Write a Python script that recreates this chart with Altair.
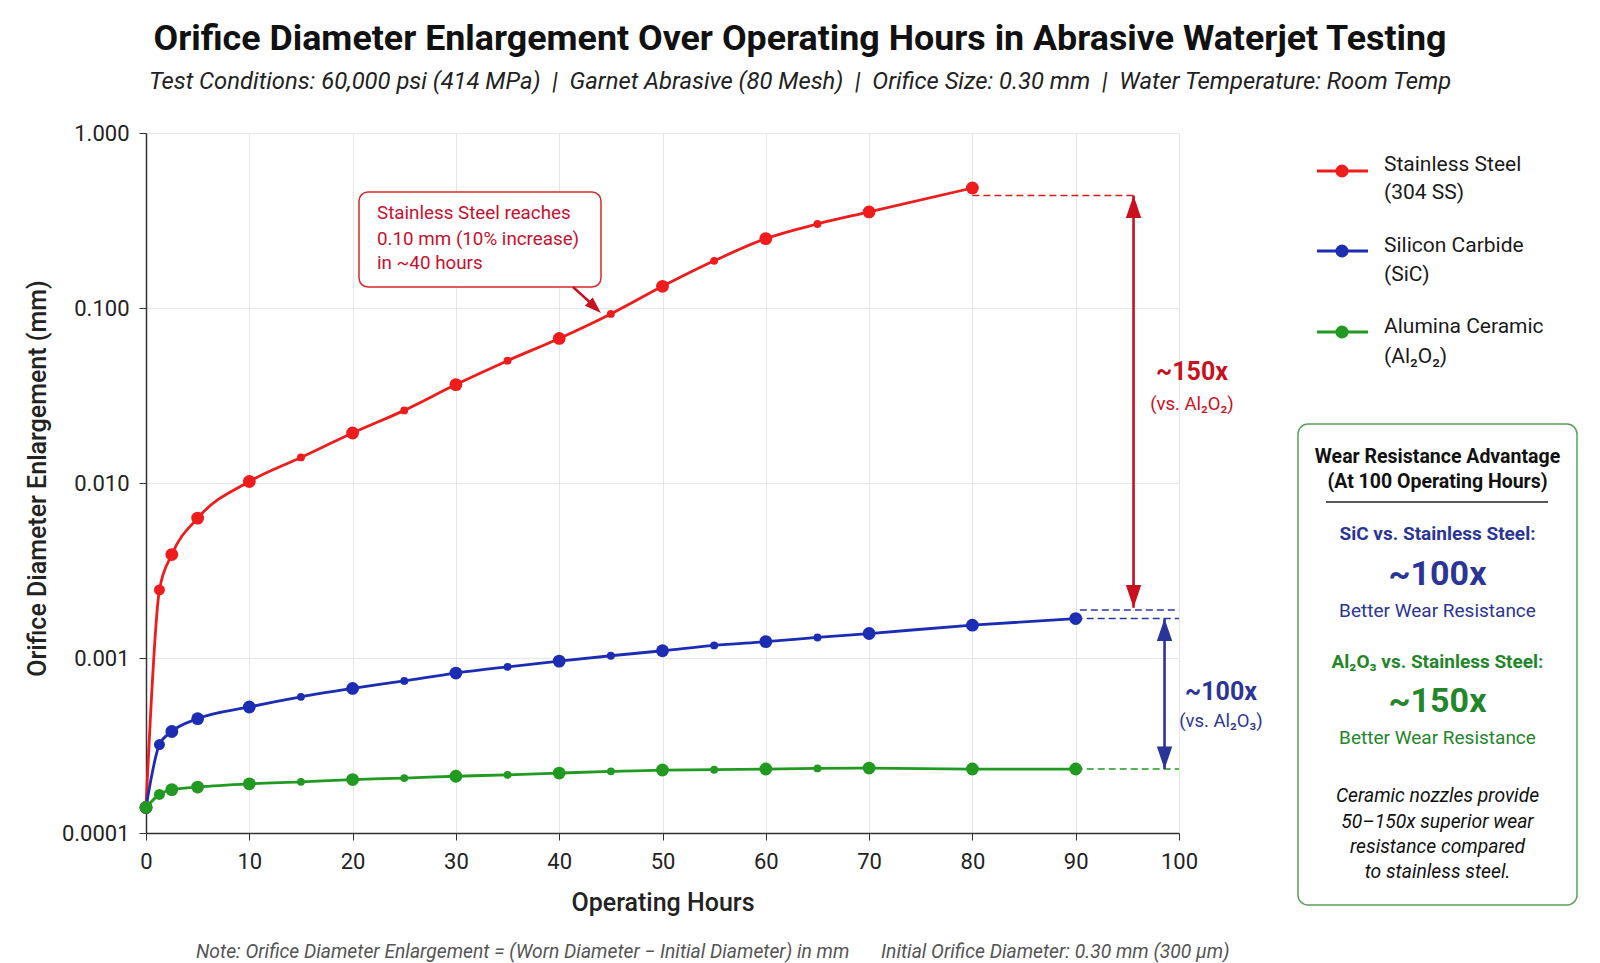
import altair as alt
import pandas as pd

# ---------------- data ----------------
hours = [0, 1.3, 2.5, 5, 10, 15, 20, 25, 30, 35, 40, 45, 50, 55, 60, 65, 70, 80, 90]
ss_hours = hours[:-1]
ss_vals = [0.00014, 0.00245, 0.0039, 0.0063, 0.0102, 0.014, 0.0193, 0.026, 0.0365, 0.050,
           0.067, 0.0925, 0.133, 0.186, 0.249, 0.302, 0.354, 0.485]
sic_vals = [0.00014, 0.00032, 0.00038, 0.00045, 0.000525, 0.0006, 0.00067, 0.00074, 0.00082,
            0.00089, 0.00096, 0.00103, 0.0011, 0.00118, 0.00124, 0.00131, 0.00138, 0.00154, 0.00168]
al_vals = [0.00014, 0.000166, 0.000177, 0.000183, 0.000191, 0.000196, 0.000202, 0.000206,
           0.000211, 0.000215, 0.00022, 0.000225, 0.000229, 0.00023, 0.000232, 0.000234,
           0.000235, 0.000232, 0.000232]
materials = ["Stainless Steel (304 SS)", "Silicon Carbide (SiC)", "Alumina Ceramic (Al₂O₂)"]
colors = ["#ee1c1c", "#1c2db4", "#229a22"]

rows = []
for h, v in zip(ss_hours, ss_vals):
    rows.append({"material": materials[0], "hours": h, "value": v})
for h, v in zip(hours, sic_vals):
    rows.append({"material": materials[1], "hours": h, "value": v})
for h, v in zip(hours, al_vals):
    rows.append({"material": materials[2], "hours": h, "value": v})
df = pd.DataFrame(rows)

# reference / comparison annotation values
ss_ref = 0.439
sic_ref_hi = 0.00188
sic_ref = 0.00168
al_ref = 0.000232
red_arrow_x = 95.6
blue_arrow_x = 98.6

FONT = "Roboto"
L, T = 146, 133  # plot origin in page pixels

xs = alt.Scale(domain=[0, 100], nice=False)
ys = alt.Scale(type="log", domain=[0.0001, 1], nice=False)
X = alt.X("hours:Q", scale=xs, title="Operating Hours",
          axis=alt.Axis(values=list(range(0, 101, 10)), labelFontSize=22, titleFontSize=25,
                        titleFontWeight=500, labelPadding=11, titlePadding=18, tickSize=7,
                        labelFlush=False,
                        labelFont=FONT, titleFont=FONT, labelColor="#222", titleColor="#222",
                        domainColor="#333", tickColor="#333", domainWidth=1.5, gridColor="#e6e6e6"))
Y = alt.Y("value:Q", scale=ys, title="Orifice Diameter Enlargement (mm)",
          axis=alt.Axis(values=[0.0001, 0.001, 0.01, 0.1, 1], labelFontSize=22, titleFontSize=25,
                        titleFontWeight=500, labelPadding=10, titlePadding=11, tickSize=7,
                        labelFlush=False, titleY=345,
                        labelExpr="datum.value >= 0.01 ? format(datum.value, '.3f') : (datum.value >= 0.001 ? '0.001' : '0.0001')",
                        labelFont=FONT, titleFont=FONT, labelColor="#222", titleColor="#222",
                        domainColor="#333", tickColor="#333", domainWidth=1.5, gridColor="#e6e6e6"))
C = alt.Color("material:N", scale=alt.Scale(domain=materials, range=colors), legend=None)

lines = alt.Chart(df).mark_line(strokeWidth=2.8, interpolate="monotone").encode(
    x=X, y=Y, color=C, order="hours:Q")
points = alt.Chart(df).transform_calculate(
    sz="(datum.hours % 10 == 0 || datum.hours == 5 || datum.hours == 2.5) ? 165 : (datum.hours < 2 ? 120 : 62)"
).mark_point(filled=True, opacity=1).encode(
    x=X, y=Y, color=C, size=alt.Size("sz:Q", scale=None))

one = pd.DataFrame({"k": [0]})


def hdash(y, x1, x2, color):
    d = pd.DataFrame({"hours": [x1], "hours2": [x2], "value": [y]})
    return alt.Chart(d).mark_rule(color=color, strokeDash=[7, 4], strokeWidth=1.6).encode(
        x=X, x2="hours2:Q", y=Y)


def varrow(x, ytop, ybot, color):
    d = pd.DataFrame({"hours": [x], "value": [ytop], "value2": [ybot]})
    shaft = alt.Chart(d).mark_rule(color=color, strokeWidth=2.6).encode(x=X, y=Y, y2="value2:Q")
    up = alt.Chart(pd.DataFrame({"hours": [x], "value": [ytop]})).mark_point(
        shape="M0,0 L-0.75,2.2 L0.75,2.2 Z", size=420, filled=True, color=color, opacity=1).encode(x=X, y=Y)
    dn = alt.Chart(pd.DataFrame({"hours": [x], "value": [ybot]})).mark_point(
        shape="M0,0 L-0.75,-2.2 L0.75,-2.2 Z", size=420, filled=True, color=color, opacity=1).encode(x=X, y=Y)
    return [shaft, up, dn]


def txt(s, x, y, size, color="#222", weight="normal", style="normal", align="center"):
    return alt.Chart(one).mark_text(text=s, fontSize=size, color=color, fontWeight=weight,
                                    fontStyle=style, align=align, baseline="middle", font=FONT).encode(
        x=alt.value(x - L), y=alt.value(y - T))


def prule(x1, y1, x2, y2, color, width=1.5):
    return alt.Chart(one).mark_rule(color=color, strokeWidth=width).encode(
        x=alt.value(x1 - L), y=alt.value(y1 - T), x2=alt.value(x2 - L), y2=alt.value(y2 - T))


def prect(x1, y1, x2, y2, stroke, fill="white", width=1.5, radius=8):
    return alt.Chart(one).mark_rect(stroke=stroke, fill=fill, strokeWidth=width, cornerRadius=radius).encode(
        x=alt.value(x1 - L), y=alt.value(y1 - T), x2=alt.value(x2 - L), y2=alt.value(y2 - T))


def pdot(x, y, color, size=120):
    return alt.Chart(one).mark_point(filled=True, color=color, size=size, opacity=1).encode(
        x=alt.value(x - L), y=alt.value(y - T))


layers = [lines, points]
layers += [hdash(ss_ref, 80, red_arrow_x, "#dd1c1c"),
           hdash(sic_ref_hi, 90.4, 100, "#2a3aa8"),
           hdash(sic_ref, 90, 100, "#2a3aa8"),
           hdash(al_ref, 90, 100, "#229a22")]
layers += varrow(red_arrow_x, ss_ref, 0.00194, "#c8101e")
layers += varrow(blue_arrow_x, sic_ref, al_ref, "#2a3597")

RED_T = "#c8101e"
BLUE_T = "#2a3597"
GREEN_T = "#23862a"

# arrow labels
layers += [txt("~150x", 1192, 372, 25, RED_T, weight="bold"),
           txt("(vs. Al₂O₂)", 1192, 404, 18.5, RED_T),
           txt("~100x", 1221, 692, 25, BLUE_T, weight="bold"),
           txt("(vs. Al₂O₃)", 1221, 721, 18.5, BLUE_T)]

# callout box
layers += [prect(359, 192, 601, 287, "#d42a2a", radius=9),
           txt("Stainless Steel reaches", 377, 213, 18.8, "#c8102e", align="left"),
           txt("0.10 mm (10% increase)", 377, 239, 18.8, "#c8102e", align="left"),
           txt("in ~40 hours", 377, 263, 18.8, "#c8102e", align="left"),
           prule(573, 287, 594, 306, "#c8101e", 2.4),
           alt.Chart(one).mark_point(shape="M0,0 L-0.75,-2.2 L0.75,-2.2 Z", size=230, filled=True,
                                     color="#c8101e", opacity=1, angle=313).encode(
               x=alt.value(601 - L), y=alt.value(313 - T))]

# legend
leg_y = [(171, 165, 193), (251, 246, 275), (332, 327, 357)]
leg_txt = [("Stainless Steel", "(304 SS)"), ("Silicon Carbide", "(SiC)"), ("Alumina Ceramic", "(Al₂O₂)")]
for (ly, t1y, t2y), (a, b), col in zip(leg_y, leg_txt, colors):
    layers += [prule(1317, ly, 1368, ly, col, 2.8), pdot(1342, ly, col, 170),
               txt(a, 1384, t1y, 21, "#1a1a1a", align="left"),
               txt(b, 1384, t2y, 21, "#1a1a1a", align="left")]

# right panel
cx = 1437.5
layers += [prect(1298, 424, 1577, 905, "#5aa05a", radius=10),
           txt("Wear Resistance Advantage", cx, 457, 19.5, "#111", weight="bold"),
           txt("(At 100 Operating Hours)", cx, 482, 19.5, "#111", weight="bold"),
           prule(1326, 502, 1548, 502, "#222", 1.5),
           txt("SiC vs. Stainless Steel:", cx, 534, 19, BLUE_T, weight="bold"),
           txt("~100x", cx, 575, 34, BLUE_T, weight="bold"),
           txt("Better Wear Resistance", cx, 611, 19, BLUE_T),
           txt("Al₂O₃ vs. Stainless Steel:", cx, 662, 19, GREEN_T, weight="bold"),
           txt("~150x", cx, 702, 34, GREEN_T, weight="bold"),
           txt("Better Wear Resistance", cx, 738, 19, GREEN_T),
           txt("Ceramic nozzles provide", cx, 796, 19.3, "#111", style="italic"),
           txt("50–150x superior wear", cx, 822, 19.3, "#111", style="italic"),
           txt("resistance compared", cx, 847, 19.3, "#111", style="italic"),
           txt("to stainless steel.", cx, 872, 19.3, "#111", style="italic")]

# titles and notes
SEP = "\u00a0\u00a0|\u00a0\u00a0"
layers += [txt("Orifice Diameter Enlargement Over Operating Hours in Abrasive Waterjet Testing",
               800, 39, 35.8, "#111", weight="bold"),
           txt("Test Conditions: 60,000 psi (414 MPa)" + SEP + "Garnet Abrasive (80 Mesh)" + SEP +
               "Orifice Size: 0.30 mm" + SEP + "Water Temperature: Room Temp",
               800, 82, 23.8, "#222", style="italic"),
           txt("Note: Orifice Diameter Enlargement = (Worn Diameter − Initial Diameter) in mm",
               196, 952, 19.3, "#555", style="italic", align="left"),
           txt("Initial Orifice Diameter: 0.30 mm (300 μm)",
               881, 952, 19.3, "#555", style="italic", align="left")]

chart = alt.layer(*layers).properties(
    width=1033, height=700,
    autosize=alt.AutoSizeParams(type="none"),
    padding={"left": L, "top": T, "right": 1600 - L - 1033, "bottom": 963 - T - 700},
    background="white",
).configure_view(stroke=None).configure_axis(gridWidth=1)

chart.save("out.html", embed_options={"renderer": "svg", "actions": False})
